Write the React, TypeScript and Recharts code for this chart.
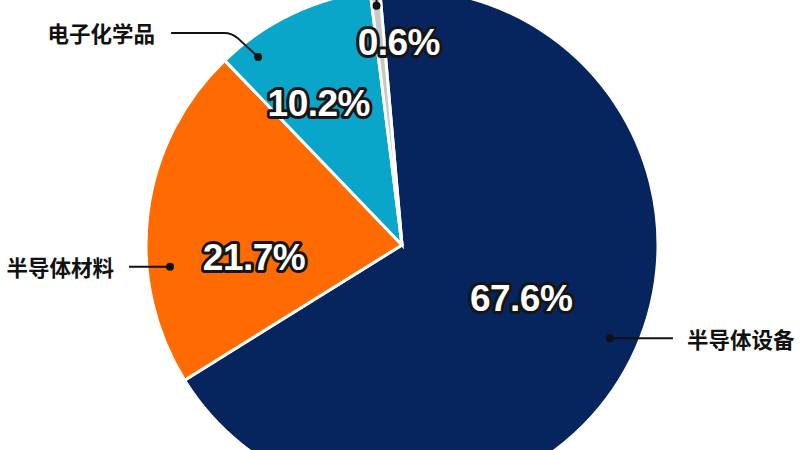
import React from "react";
import { Cell, Pie, PieChart } from "recharts";

const names = ["半导体设备", "半导体材料", "电子化学品", "其他"];
const shares = [67.6, 21.7, 10.2, 0.6];
const colors = ["#06255F", "#FF6B00", "#0AA6C9", "#C8C8C8"];

const data = names.map((name, i) => ({ name, value: shares[i] }));

const RAD = Math.PI / 180;
const CX = 402;
const CY = 245;
const R = 256;

// f = position along the slice (0 start, 1 end), r = share of the outer radius
const pctSpots = [
  { f: 0.49, r: 0.51 },
  { f: 0.346, r: 0.58 },
  { f: 0.363, r: 0.64 },
  { f: 2.9, r: 0.79 },
];

// leader dot + segments (dx, dy) + gap before the name
const leaders = [
  { f: 0.49, r: 0.89, steps: [[63, 0]], anchor: "start", gap: 14, show: true },
  { f: 0.34, r: 0.91, steps: [[-41, 0]], anchor: "end", gap: 15, show: true },
  { f: 0.175, r: 0.925, steps: [[-26, -24], [-61, 0]], anchor: "end", gap: 16, show: true },
  { f: 0.5, r: 0.94, steps: [[0, -40]], anchor: "middle", gap: 0, show: false },
];

const polar = (cx: number, cy: number, r: number, deg: number) => [
  cx + r * Math.cos(-deg * RAD),
  cy + r * Math.sin(-deg * RAD),
];

const leaderPath = (pts: number[][]) => {
  let d = `M${pts[0][0]},${pts[0][1]}`;
  for (let i = 1; i < pts.length; i++) {
    const p = pts[i];
    if (i < pts.length - 1) {
      // round the elbow a little
      const prev = pts[i - 1];
      const next = pts[i + 1];
      const k = 8;
      const l1 = Math.hypot(p[0] - prev[0], p[1] - prev[1]);
      const l2 = Math.hypot(next[0] - p[0], next[1] - p[1]);
      const a = [p[0] - ((p[0] - prev[0]) / l1) * k, p[1] - ((p[1] - prev[1]) / l1) * k];
      const b = [p[0] + ((next[0] - p[0]) / l2) * k, p[1] + ((next[1] - p[1]) / l2) * k];
      d += ` L${a[0]},${a[1]} Q${p[0]},${p[1]} ${b[0]},${b[1]}`;
    } else {
      d += ` L${p[0]},${p[1]}`;
    }
  }
  return d;
};

const renderTags = (props: any) => {
  const { cx, cy, outerRadius, startAngle, endAngle, index, value, name } = props;
  const span = endAngle - startAngle;

  const spot = pctSpots[index];
  const [tx, ty] = polar(cx, cy, outerRadius * spot.r, startAngle + spot.f * span);

  const lead = leaders[index];
  const [dx, dy] = polar(cx, cy, outerRadius * lead.r, startAngle + lead.f * span);
  const pts = [[dx, dy]];
  lead.steps.forEach(([sx, sy]) => {
    const last = pts[pts.length - 1];
    pts.push([last[0] + sx, last[1] + sy]);
  });
  const end = pts[pts.length - 1];
  const nameX = lead.anchor === "start" ? end[0] + lead.gap : end[0] - lead.gap;

  return (
    <g>
      <path d={leaderPath(pts)} stroke="#111" strokeWidth={2} fill="none" />
      <circle cx={dx} cy={dy} r={4} fill="#111" />
      {lead.show && (
        <text
          x={nameX}
          y={end[1]}
          textAnchor={lead.anchor}
          dominantBaseline="central"
          fill="#111"
          fontSize={21.5}
          fontWeight={700}
          fontFamily="'Noto Sans CJK SC', 'Noto Sans', sans-serif"
        >
          {name}
        </text>
      )}
      <text
        x={tx}
        y={ty}
        textAnchor="middle"
        dominantBaseline="central"
        fill="#fff"
        stroke="#151515"
        strokeWidth={6}
        strokeLinejoin="round"
        paintOrder="stroke"
        fontSize={37}
        fontWeight={700}
        letterSpacing={-0.5}
        fontFamily="'Liberation Sans', Arial, sans-serif"
      >
        {`${Number(value).toFixed(1)}%`}
      </text>
    </g>
  );
};

export default function App() {
  return (
    <div
      style={{
        position: "absolute",
        left: 0,
        top: 0,
        width: 800,
        height: 450,
        overflow: "hidden",
        background: "#fff",
      }}
    >
      <PieChart width={800} height={450} margin={{ top: 0, right: 0, bottom: 0, left: 0 }}>
        <Pie
          data={data}
          dataKey="value"
          nameKey="name"
          cx={CX}
          cy={CY}
          outerRadius={R}
          startAngle={95}
          endAngle={-265}
          stroke="#fff"
          strokeWidth={3}
          label={renderTags}
          labelLine={false}
          isAnimationActive={false}
        >
          {data.map((entry, i) => (
            <Cell key={`cell-${entry.name}`} fill={colors[i]} />
          ))}
        </Pie>
      </PieChart>
    </div>
  );
}
